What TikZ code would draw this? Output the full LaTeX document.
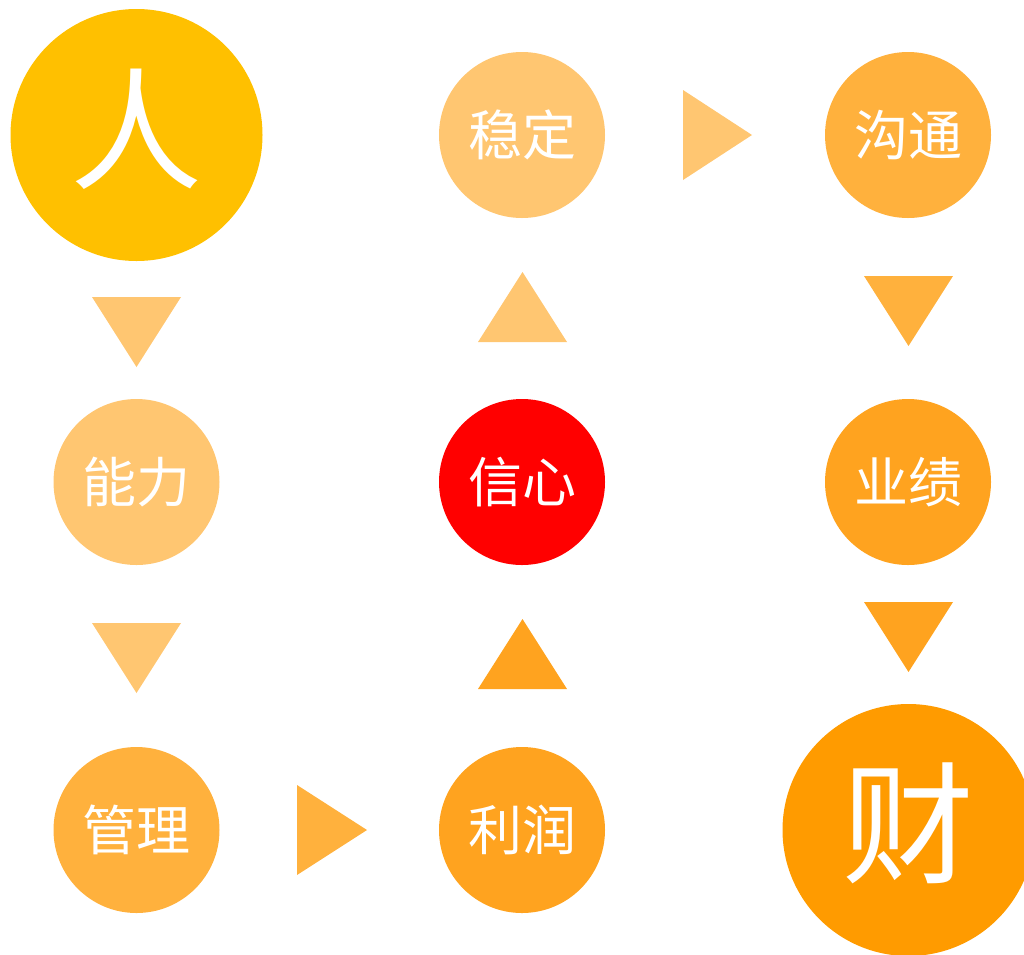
\documentclass[tikz,border=0pt]{standalone}
\usepackage{fontspec}
\newfontfamily\cjk{Noto Sans CJK SC}
\usetikzlibrary{positioning}
\definecolor{cgold}{HTML}{FFC000}
\definecolor{clight}{HTML}{FFC671}
\definecolor{cmid}{HTML}{FFB13D}
\definecolor{cdeep}{HTML}{FFA31F}
\definecolor{cfull}{HTML}{FF9B00}
\definecolor{cred}{HTML}{FF0000}
\tikzset{
  bubble/.style={circle, minimum size=166pt, inner sep=0pt, text=white, font=\cjk\fontsize{54}{54}\selectfont},
  bigbubble/.style={circle, minimum size=252pt, inner sep=0pt, text=white, font=\cjk\fontsize{132}{132}\selectfont},
  bigtext/.style={text=white, inner sep=0pt, font=\cjk\fontsize{132}{132}\selectfont},
}
\begin{document}
\begin{tikzpicture}[x=1pt,y=-1pt]
\clip (0,0) rectangle (1024,954);
\useasboundingbox (0,0) rectangle (1024,954);
\node[bigbubble, fill=cgold] (ren) at (136.5,135) {};
\node[bigtext] (rentext) at ([yshift=6pt]ren.center) {人};
\node[bubble, fill=clight] (wending) at (522,135) {稳定};
\node[bubble, fill=cmid] (goutong) at (908,135) {沟通};
\node[bubble, fill=clight] (nengli) at (136.5,482) {能力};
\node[bubble, fill=cred] (xinxin) at (522,482) {信心};
\node[bubble, fill=cdeep] (yeji) at (908,482) {业绩};
\node[bubble, fill=cmid] (guanli) at (136.5,830) {管理};
\node[bubble, fill=cdeep] (lirun) at (522,830) {利润};
\node[bigbubble, fill=cfull] (cai) at (908.5,830) {};
\node[bigtext] (caitext) at ([yshift=7pt]cai.center) {财};
% triangles
\fill[clight] (92,297) -- (181,297) -- (136.5,367) -- cycle;
\fill[clight] (92,623) -- (181,623) -- (136.5,693) -- cycle;
\fill[cmid] (297,785) -- (297,875) -- (367,830) -- cycle;
\fill[cdeep] (478,689) -- (567,689) -- (522.5,619) -- cycle;
\fill[clight] (478,342) -- (567,342) -- (522.5,272) -- cycle;
\fill[clight] (683,90) -- (683,180) -- (752,135) -- cycle;
\fill[cmid] (864,276) -- (953,276) -- (908.5,346) -- cycle;
\fill[cdeep] (864,602) -- (953,602) -- (908.5,672) -- cycle;
\end{tikzpicture}
\end{document}
